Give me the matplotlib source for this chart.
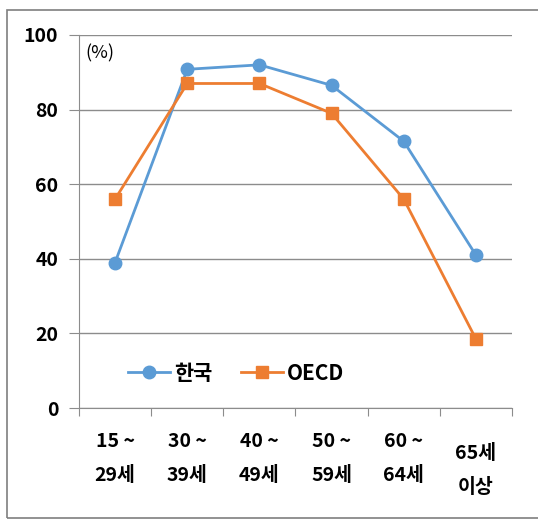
import matplotlib
matplotlib.use("Agg")
import matplotlib.pyplot as plt
import matplotlib.transforms as mtransforms
import numpy as np

plt.rcParams['font.family'] = ['Noto Sans CJK KR', 'DejaVu Sans']

age_groups = ["15 ~\n29세", "30 ~\n39세", "40 ~\n49세", "50 ~\n59세", "60 ~\n64세", "65세\n이상"]
korea = [39, 90.8, 92, 86.5, 71.5, 41]
oecd = [56, 87, 87, 79, 56, 18.5]

blue = "#5B9BD5"
orange = "#ED7D31"
grid_c = "#8C8C8C"

fig = plt.figure(figsize=(5.38, 5.19), dpi=100)
ax = fig.add_axes([79 / 538, 1 - 408 / 519, (512 - 79) / 538, (408 - 35) / 519])

x = np.arange(len(age_groups))
ax.plot(x, korea, color=blue, lw=2, marker="o", ms=9, label="한국", zorder=3)
ax.plot(x, oecd, color=orange, lw=2, marker="s", ms=9, label="OECD", zorder=3)

ax.set_xlim(-0.5, len(age_groups) - 0.5)
ax.set_ylim(0, 100)
ax.set_yticks(range(0, 101, 20))
ax.yaxis.grid(True, color=grid_c, lw=1)
ax.set_axisbelow(True)

for s in ["top", "right"]:
    ax.spines[s].set_visible(False)
ax.spines["left"].set_color(grid_c)
ax.spines["bottom"].set_color(grid_c)

ax.tick_params(axis="y", length=7, color=grid_c, labelsize=14, pad=8)
for lab in ax.get_yticklabels():
    lab.set_fontweight("bold")

# category ticks sit between groups, labels in the middle
ax.set_xticks(np.arange(-0.5, len(age_groups)), minor=False)
ax.set_xticklabels([])
ax.set_xticks(x, minor=True)
ax.set_xticklabels(age_groups, minor=True, fontsize=14, fontweight="bold", linespacing=2.05)
ax.tick_params(axis="x", which="major", length=6, color=grid_c)
ax.tick_params(axis="x", which="minor", length=0, pad=17)

# last label sits a bit lower
last = ax.get_xticklabels(minor=True)[-1]
last.set_transform(last.get_transform() + mtransforms.ScaledTranslation(0, -12 / 100, fig.dpi_scale_trans))

ax.text(0.015, 0.975, "(%)", transform=ax.transAxes, fontsize=13, va="top", ha="left")

ax.legend(loc="lower left", bbox_to_anchor=(0.07, 0.015), ncol=2, frameon=False,
          prop={"size": 15, "weight": "bold"}, handlelength=2.0, handletextpad=0.2,
          columnspacing=1.4)

# outer frame
fig.patches.append(plt.Rectangle((7 / 538, 1 / 519), 1.0, 508 / 519, transform=fig.transFigure,
                                 fill=False, edgecolor="#7F7F7F", lw=1.2))

fig.savefig("out.png", dpi=100)
